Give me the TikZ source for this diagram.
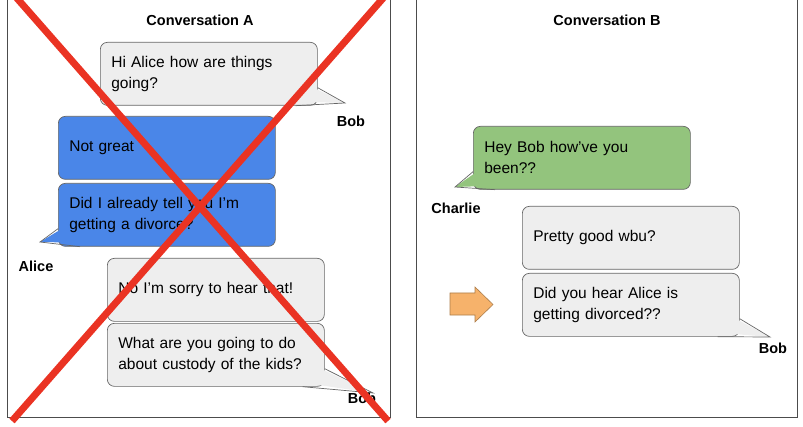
\documentclass[tikz,border=0pt]{standalone}
\usepackage{fontspec}
\setmainfont{Liberation Sans}
\definecolor{bgray}{HTML}{EEEEEE}
\definecolor{bblue}{HTML}{4A86E8}
\definecolor{bgreen}{HTML}{93C47D}
\definecolor{borange}{HTML}{F6B26B}
\definecolor{xred}{HTML}{EA3323}
\begin{document}
\begin{tikzpicture}[x=1pt,y=1pt,
  bubble/.style={draw=black!60,line width=0.7pt,rounded corners=7pt,minimum width=217pt,minimum height=63pt,text width=195pt,align=left,inner sep=0pt,anchor=north west,font=\fontsize{15.5}{21}\selectfont},
  who/.style={font=\bfseries\fontsize{14.5}{17}\selectfont},
  ttl/.style={font=\bfseries\fontsize{14.5}{17}\selectfont},
  tail/.style={draw=black!60,line width=0.7pt}]
\useasboundingbox (0,0) rectangle (803,426);
\draw[black!70,line width=1pt] (7,430) -- (7,9) -- (390,9) -- (390,430);
\draw[black!70,line width=1pt] (416,430) -- (416,9) -- (797,9) -- (797,430);
\node[ttl] (ta) at (200,406) {Conversation A};
\node[ttl] (tb) at (607,406) {Conversation B};
% bubble 1
\coordinate (t1) at (345,323);
\node[bubble,fill=bgray] (b1) at (100,384) {Hi Alice how are things\\going?};
\fill[bgray] ([xshift=-22pt,yshift=4pt]b1.south east) -- (t1) -- ([yshift=18pt,xshift=-4pt]b1.south east) -- cycle;
\draw[tail] ([xshift=-22pt]b1.south east) -- (t1) -- ([yshift=18pt]b1.south east);
\node[who] (n1) at (351,305) {Bob};
% bubble 2,3
\node[bubble,fill=bblue] (b2) at (58,310) {Not great};
\coordinate (t3) at (40,184);
\node[bubble,fill=bblue] (b3) at (58,243) {Did I already tell you I'm\\getting a divorce?};
\fill[bblue] ([xshift=22pt,yshift=4pt]b3.south west) -- (t3) -- ([yshift=18pt,xshift=4pt]b3.south west) -- cycle;
\draw[tail] ([xshift=22pt]b3.south west) -- (t3) -- ([yshift=18pt]b3.south west);
\node[who] (n3) at (36,160) {Alice};
% bubble 4,5
\node[bubble,fill=bgray] (b4) at (107,168) {No I'm sorry to hear that!};
\coordinate (t5) at (373,33);
\node[bubble,fill=bgray] (b5) at (107,103) {What are you going to do\\about custody of the kids?};
\fill[bgray] ([xshift=-22pt,yshift=4pt]b5.south east) -- (t5) -- ([yshift=18pt,xshift=-4pt]b5.south east) -- cycle;
\draw[tail] ([xshift=-22pt]b5.south east) -- (t5) -- ([yshift=18pt]b5.south east);
\node[who] (n5) at (362,28) {Bob};
% right side
\coordinate (t6) at (455,239);
\node[bubble,fill=bgreen] (b6) at (473,300) {Hey Bob how've you\\been??};
\fill[bgreen] ([xshift=22pt,yshift=4pt]b6.south west) -- (t6) -- ([yshift=18pt,xshift=4pt]b6.south west) -- cycle;
\draw[tail] ([xshift=22pt]b6.south west) -- (t6) -- ([yshift=18pt]b6.south west);
\node[who] (n6) at (456,218) {Charlie};
\node[bubble,fill=bgray] (b7) at (522,220) {Pretty good wbu?};
\coordinate (t8) at (770,89);
\node[bubble,fill=bgray] (b8) at (522,153) {Did you hear Alice is\\getting divorced??};
\fill[bgray] ([xshift=-22pt,yshift=4pt]b8.south east) -- (t8) -- ([yshift=18pt,xshift=-4pt]b8.south east) -- cycle;
\draw[tail] ([xshift=-22pt]b8.south east) -- (t8) -- ([yshift=18pt]b8.south east);
\node[who] (n8) at (773,78) {Bob};
\draw[fill=borange,draw=borange!70!black,line width=0.6pt] (450,133) -- (475,133) -- (475,139) -- (493,121.5) -- (475,104) -- (475,111) -- (450,111) -- cycle;
% red X
\draw[xred,line width=7pt] (12,5) -- (385,430);
\draw[xred,line width=7pt] (388,5) -- (15,430);
\end{tikzpicture}
\end{document}
